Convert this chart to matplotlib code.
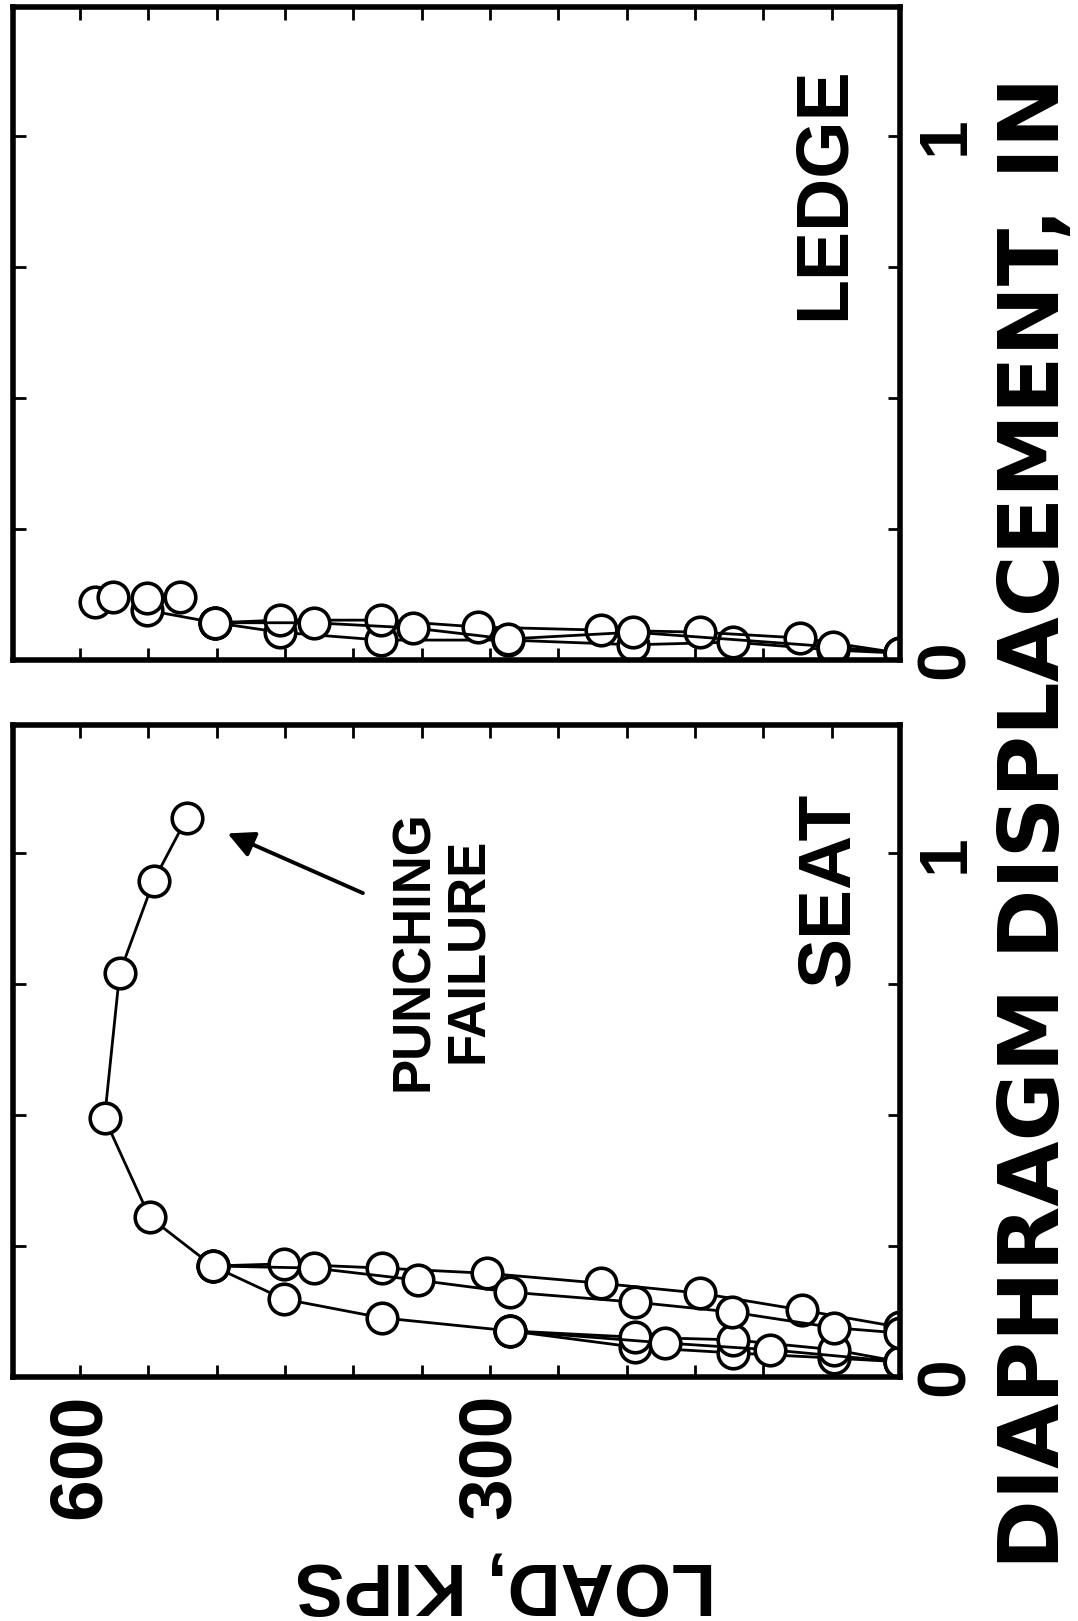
#!/usr/bin/env python

import numpy as np
import matplotlib

matplotlib.use('Agg')  # headless

import matplotlib.pyplot as plt
from matplotlib.ticker import FuncFormatter, MultipleLocator

# load in kips, displacement in inches (page is turned: load runs right->left)

# SEAT
seat_c1_load = [0, 48, 122, 194, 285]
seat_c1_disp = [0.029, 0.036, 0.046, 0.057, 0.088]
seat_c1u_load = [285, 194, 122, 48, 0]
seat_c1u_disp = [0.088, 0.076, 0.071, 0.052, 0.029]
seat_c2_load = [0, 95, 172, 285, 379, 451, 503]
seat_c2_disp = [0.029, 0.052, 0.065, 0.088, 0.113, 0.149, 0.212]
seat_c2u_load = [503, 451, 379, 302, 219, 146, 72, 0]
seat_c2u_disp = [0.212, 0.216, 0.208, 0.198, 0.179, 0.160, 0.128, 0.095]
seat_c3_load = [0, 48, 123, 194, 285, 353, 429, 503, 549, 582, 571, 546, 522]
seat_c3_disp = [0.084, 0.094, 0.124, 0.143, 0.162, 0.185, 0.208, 0.212, 0.305, 0.494, 0.771, 0.948, 1.067]

# LEDGE
ledge_a_load = [0, 49, 122, 195, 287, 380, 454, 501, 551]
ledge_a_disp = [0.013, 0.019, 0.034, 0.029, 0.038, 0.038, 0.053, 0.071, 0.095]
ledge_b_load = [0, 73, 146, 219, 309, 380, 454, 501]
ledge_b_disp = [0.013, 0.042, 0.053, 0.057, 0.063, 0.076, 0.076, 0.071]
ledge_c_load = [0, 49, 195, 287, 356, 429, 501]
ledge_c_disp = [0.013, 0.025, 0.053, 0.040, 0.061, 0.071, 0.071]
ledge_top_load = [589, 576, 551, 527]
ledge_top_disp = [0.111, 0.120, 0.118, 0.120]

load_labels = [300, 600]
disp_labels = [0, 1]

W, H = 1078, 1621
plt.rcParams['font.family'] = ['Liberation Sans', 'DejaVu Sans']
plt.rcParams['font.weight'] = 'bold'

fig = plt.figure(figsize=(W / 100., H / 100.), dpi=100)


def px_axes(x0, y0, x1, y1):
    return fig.add_axes([x0 / W, 1 - y1 / H, (x1 - x0) / W, (y1 - y0) / H])


ax_seat = px_axes(13, 725, 900, 1377)
ax_ledge = px_axes(13, 7, 900, 660)

line_kw = dict(color='black', lw=2, marker='o', ms=22, mfc='white',
               mec='black', mew=2.6)


def style(ax, bottom_labels):
    ax.set_xlim(649, 0)
    ax.set_ylim(0, 1.245)
    ax.xaxis.set_major_locator(MultipleLocator(50))
    ax.yaxis.set_major_locator(MultipleLocator(0.25))
    for s in ax.spines.values():
        s.set_linewidth(4)
    ax.tick_params(direction='in', length=9, width=2, top=True, bottom=True,
                   left=True, right=True, labelleft=False, labelright=True,
                   labelbottom=bottom_labels)
    ax.tick_params(axis='x', labelsize=54, labelrotation=90, pad=12)
    ax.tick_params(axis='y', labelsize=50, labelrotation=90, pad=10)
    ax.xaxis.set_major_formatter(FuncFormatter(
        lambda v, p: '%d' % v if int(round(v)) in load_labels else ''))
    ax.yaxis.set_major_formatter(FuncFormatter(
        lambda v, p: '%d' % v if abs(v - round(v)) < 1e-6 and int(round(v)) in disp_labels else ''))
    for lab in ax.get_yticklabels():
        lab.set_va('center')


style(ax_seat, True)
style(ax_ledge, False)

ax_seat.plot(seat_c1_load, seat_c1_disp, **line_kw)
ax_seat.plot(seat_c1u_load, seat_c1u_disp, **line_kw)
ax_seat.plot(seat_c2_load, seat_c2_disp, **line_kw)
ax_seat.plot(seat_c2u_load, seat_c2u_disp, **line_kw)
ax_seat.plot(seat_c3_load, seat_c3_disp, **line_kw)

ax_ledge.plot(ledge_a_load, ledge_a_disp, **line_kw)
ax_ledge.plot(ledge_b_load, ledge_b_disp, **line_kw)
ax_ledge.plot(ledge_c_load, ledge_c_disp, **line_kw)
ax_ledge.plot(ledge_top_load, ledge_top_disp, ls='none', **{k: v for k, v in line_kw.items() if k != 'lw'})

ax_seat.text(0.92, 0.748, 'SEAT', transform=ax_seat.transAxes, rotation=90,
             ha='center', va='center', fontsize=54, fontweight='bold')
ax_ledge.text(0.915, 0.715, 'LEDGE', transform=ax_ledge.transAxes, rotation=90,
              ha='center', va='center', fontsize=53, fontweight='bold')

ax_seat.annotate('', xy=(492, 1.038), xytext=(393, 0.924),
                 arrowprops=dict(arrowstyle='-|>', color='black', lw=2.8,
                                 mutation_scale=40, shrinkA=0, shrinkB=0))
ax_seat.text(336, 0.815, 'PUNCHING\nFAILURE', rotation=90, ha='center',
             va='center', multialignment='center', linespacing=1.1,
             fontsize=38, fontweight='bold')

fig.text(505 / W, 1 - 1583 / H, 'LOAD, KIPS', rotation=180, ha='center',
         va='center', fontsize=53, fontweight='bold')

# long turned label: size it to span ~78..1597 px from the top, keep inside right edge
xlab = fig.text(0.97, 0.5, 'DIAPHRAGM DISPLACEMENT, IN', rotation=90,
                ha='right', va='center', fontsize=55, fontweight='bold',
                family=['DejaVu Sans'])
renderer = fig.canvas.get_renderer()
bb = xlab.get_window_extent(renderer)
xlab.set_fontsize(55 * 1490. / bb.height)
xlab.set_position((1076. / W, 1 - 823. / H))

fig.savefig('out.png', dpi=100)
